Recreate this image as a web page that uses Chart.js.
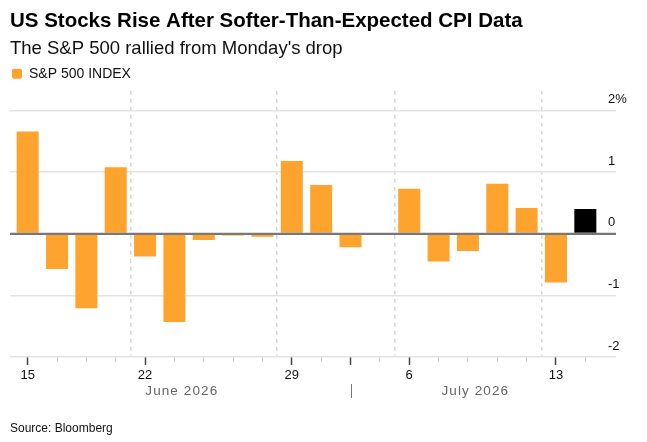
<!DOCTYPE html>
<html>
<head>
<meta charset="utf-8">
<style>
  html, body { margin: 0; padding: 0; background: #ffffff; }
  #wrap { width: 647px; height: 442px; position: relative; }
</style>
<script src="https://cdn.jsdelivr.net/npm/chart.js@4"></script>
</head>
<body>
<div id="wrap"><canvas id="chart"></canvas></div>
<script>
// ---- Data ----
const tradingDays = [
  '2026-06-15','2026-06-16','2026-06-17','2026-06-18',
  '2026-06-22','2026-06-23','2026-06-24','2026-06-25','2026-06-26',
  '2026-06-29','2026-06-30','2026-07-01','2026-07-02',
  '2026-07-06','2026-07-07','2026-07-08','2026-07-09','2026-07-10',
  '2026-07-13','2026-07-14'
];
const spxDailyChange = [
  1.66, -0.57, -1.21, 1.08,
  -0.37, -1.43, -0.10, -0.03, -0.05,
  1.18, 0.79, -0.22, 0.00,
  0.73, -0.45, -0.28, 0.81, 0.42,
  -0.79, 0.40
];
const yTickValues = [-2, -1, 0, 1, 2];
const monthLabels = ['June 2026', 'July 2026'];
const seriesLabel = 'S&P 500 INDEX';
const titleText = 'US Stocks Rise After Softer-Than-Expected CPI Data';
const subtitleText = "The S&P 500 rallied from Monday's drop";
const sourceText = 'Source: Bloomberg';

// ---- Helpers ----
const FONT = "'Liberation Sans', Arial, Helvetica, sans-serif";
const ORANGE = '#FFA32F';
const HIGHLIGHT = '#000000';
const GRID = '#e3e3e3';
const ZERO = '#777777';
const n = tradingDays.length;
const d = i => new Date(tradingDays[i] + 'T00:00:00Z');
const isMonday = i => i >= 0 && i < n && d(i).getUTCDay() === 1;
const isMonthStart = i => i > 0 && i < n && d(i).getUTCMonth() !== d(i - 1).getUTCMonth();
const isMajor = i => isMonday(i) || isMonthStart(i);
const firstJuly = tradingDays.findIndex((s, i) => isMonthStart(i));

const yGridColor = ctx => (ctx.tick && ctx.tick.value === 0) ? ZERO : GRID;
const yGridWidth = ctx => (ctx.tick && ctx.tick.value === 0) ? 2 : 1.5;

const extrasPlugin = {
  id: 'extras',
  afterDatasetsDraw(chart) {
    const { ctx, chartArea } = chart;
    const y0 = chart.scales.y.getPixelForValue(0);
    ctx.save();
    ctx.strokeStyle = ZERO;
    ctx.lineWidth = 2;
    ctx.beginPath();
    ctx.moveTo(chartArea.left - 3, y0);
    ctx.lineTo(chartArea.right + 16, y0);
    ctx.stroke();
    ctx.restore();
  },
  afterDraw(chart) {
    const { ctx, chartArea } = chart;
    const xs = chart.scales.x;
    const sep = xs.getPixelForValue(firstJuly);
    const yMonth = chartArea.bottom + 34;
    ctx.save();
    ctx.fillStyle = '#666666';
    ctx.font = '13.5px ' + FONT;
    ctx.textAlign = 'center';
    ctx.textBaseline = 'middle';
    if ('letterSpacing' in ctx) ctx.letterSpacing = '1.1px';
    ctx.fillText(monthLabels[0], (chartArea.left + sep) / 2, yMonth);
    ctx.fillText(monthLabels[1], (sep + chartArea.right) / 2, yMonth);
    if ('letterSpacing' in ctx) ctx.letterSpacing = '0px';
    ctx.strokeStyle = '#777777';
    ctx.lineWidth = 1;
    ctx.beginPath();
    ctx.moveTo(Math.round(sep) + 0.5, yMonth - 7);
    ctx.lineTo(Math.round(sep) + 0.5, yMonth + 7);
    ctx.stroke();
    ctx.fillStyle = '#111111';
    ctx.font = '12px ' + FONT;
    ctx.textAlign = 'left';
    ctx.fillText(sourceText, 10, chart.height - 13);
    ctx.restore();
  }
};

new Chart(document.getElementById('chart'), {
  type: 'bar',
  data: {
    labels: tradingDays,
    datasets: [{
      label: seriesLabel,
      data: spxDailyChange,
      backgroundColor: ctx => (ctx.type === 'data' && ctx.dataIndex === n - 1) ? HIGHLIGHT : ORANGE,
      borderWidth: 0,
      barPercentage: 0.75,
      categoryPercentage: 1.0,
      xAxisID: 'x',
      yAxisID: 'y'
    }]
  },
  options: {
    responsive: true,
    maintainAspectRatio: false,
    animation: false,
    devicePixelRatio: 1,
    layout: { padding: { left: 10, right: 0, top: 1, bottom: 0 } },
    plugins: {
      title: {
        display: true, text: titleText, align: 'start', color: '#000000',
        font: { family: FONT, size: 20.5, weight: 'bold', lineHeight: 1.2 },
        padding: { top: 8, bottom: 2 }
      },
      subtitle: {
        display: true, text: subtitleText, align: 'start', color: '#111111',
        font: { family: FONT, size: 18.5, weight: 'normal', lineHeight: 1.2 },
        padding: { top: 2, bottom: 5 }
      },
      legend: {
        display: true, position: 'top', align: 'start',
        labels: {
          boxWidth: 10, boxHeight: 10, padding: 2, color: '#111111',
          useBorderRadius: true, borderRadius: 2,
          font: { family: FONT, size: 14 }
        }
      },
      tooltip: { enabled: false }
    },
    scales: {
      x: {
        type: 'category', position: 'bottom', offset: true,
        grid: {
          offset: true, drawTicks: false, lineWidth: 1.5,
          color: ctx => (ctx.index > 0 && isMonday(ctx.index)) ? '#d6d6d6' : 'rgba(0,0,0,0)'
        },
        border: { display: false, dash: [4, 4] },
        ticks: { display: false }
      },
      x2: {
        type: 'category', position: 'bottom', offset: true, labels: tradingDays,
        grid: {
          offset: false, drawOnChartArea: false, drawTicks: true, tickLength: 8,
          tickColor: ctx => isMajor(ctx.index) ? '#444444' : '#cccccc',
          tickWidth: ctx => isMajor(ctx.index) ? 1.5 : 1,
          tickBorderDash: ctx => isMajor(ctx.index) ? [] : [5, 30]
        },
        border: { display: false },
        ticks: {
          autoSkip: false, maxRotation: 0, minRotation: 0, padding: 3,
          color: '#111111', font: { family: FONT, size: 13 },
          callback: (v, i) => isMonday(i) ? String(d(i).getUTCDate()) : ''
        },
        afterFit: s => { s.height = 85; }
      },
      y: {
        type: 'linear', position: 'right', min: -2, max: 2.32,
        afterBuildTicks: s => { s.ticks = yTickValues.map(v => ({ value: v })); },
        grid: {
          color: yGridColor, lineWidth: yGridWidth,
          tickColor: yGridColor, tickWidth: yGridWidth,
          drawTicks: true, tickLength: 16
        },
        border: { display: false },
        ticks: {
          padding: -8, labelOffset: -11, color: '#111111',
          font: { family: FONT, size: 13 },
          callback: v => v === 2 ? '2%' : String(v)
        },
        afterFit: s => { s.width = 47; }
      },
      yl: {
        type: 'linear', position: 'left', min: -2, max: 2.32,
        afterBuildTicks: s => { s.ticks = yTickValues.map(v => ({ value: v })); },
        grid: {
          drawOnChartArea: false, drawTicks: true, tickLength: 3,
          color: yGridColor, lineWidth: yGridWidth,
          tickColor: yGridColor, tickWidth: yGridWidth
        },
        border: { display: false },
        ticks: { display: false },
        afterFit: s => { s.width = 3; }
      }
    }
  },
  plugins: [extrasPlugin]
});
</script>
</body>
</html>
